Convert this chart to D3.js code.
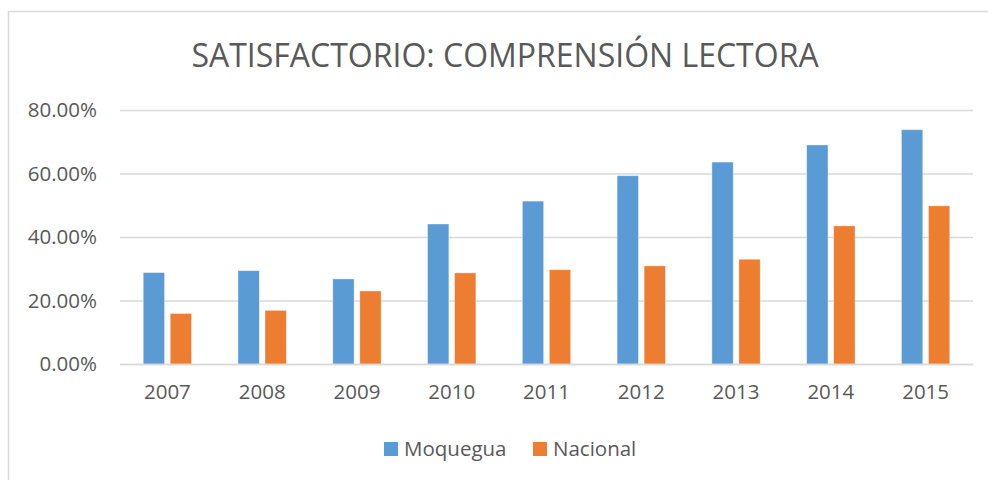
<!DOCTYPE html>
<html>
<head>
<meta charset="utf-8">
<script src="https://cdn.jsdelivr.net/npm/d3@7"></script>
<style>
  body { margin: 0; background: #fff; }
  text { font-family: "Open Sans", sans-serif; fill: #595959; }
</style>
</head>
<body>
<div id="chart"></div>
<script>
// data
var years = ["2007", "2008", "2009", "2010", "2011", "2012", "2013", "2014", "2015"];
var seriesNames = ["Moquegua", "Nacional"];
var moquegua = [0.288, 0.294, 0.268, 0.441, 0.513, 0.593, 0.636, 0.690, 0.738];
var nacional = [0.159, 0.169, 0.230, 0.287, 0.297, 0.309, 0.330, 0.435, 0.498];
var yTicks = [0, 0.2, 0.4, 0.6, 0.8];
var colors = ["#5B9BD5", "#ED7D31"];

var W = 988, H = 480;

var svg = d3.select("#chart").append("svg")
    .attr("width", W)
    .attr("height", H);

// chart border (only top and left visible in the crop)
svg.append("rect")
    .attr("x", 8.5).attr("y", 11.5)
    .attr("width", 1000).attr("height", 500)
    .attr("fill", "none")
    .attr("stroke", "#d9d9d9")
    .attr("stroke-width", 1.5);

svg.append("text")
    .attr("x", 505).attr("y", 67)
    .attr("text-anchor", "middle")
    .style("font-size", "32px")
    .text("SATISFACTORIO: COMPRENSIÓN LECTORA");

var xScale = d3.scaleBand()
    .domain(years)
    .range([120, 973])
    .paddingInner(0.49)
    .paddingOuter(0.245);

var xSub = d3.scaleBand()
    .domain(seriesNames)
    .range([0, xScale.bandwidth()])
    .paddingInner(0.21);

var yScale = d3.scaleLinear()
    .domain([0, 0.8])
    .range([364, 110]);

// gridlines
var yAxis = svg.append("g")
    .attr("transform", "translate(120,0)")
    .call(d3.axisLeft(yScale)
        .tickValues(yTicks)
        .tickSize(-(973 - 120))
        .tickPadding(23)
        .tickFormat(function(d) { return (d * 100).toFixed(2) + "%"; }));
yAxis.select(".domain").remove();
yAxis.selectAll(".tick line").attr("stroke", "#d9d9d9").attr("stroke-width", 1.5);
yAxis.selectAll(".tick text")
    .style("font-size", "20.5px")
    .attr("fill", "#595959");

var rows = years.map(function(y, i) {
    return { year: y, values: [moquegua[i], nacional[i]] };
});

var groups = svg.selectAll("g.year")
    .data(rows)
    .enter().append("g")
    .attr("class", "year")
    .attr("transform", function(d) { return "translate(" + xScale(d.year) + ",0)"; });

groups.selectAll("rect")
    .data(function(d) { return d.values.map(function(v, j) { return { name: seriesNames[j], v: v, c: colors[j] }; }); })
    .enter().append("rect")
    .attr("x", function(d) { return xSub(d.name); })
    .attr("y", function(d) { return yScale(d.v); })
    .attr("width", xSub.bandwidth())
    .attr("height", function(d) { return yScale(0) - yScale(d.v); })
    .attr("fill", function(d) { return d.c; })
    .attr("stroke", "#ffffff")
    .attr("stroke-opacity", 0.5)
    .attr("stroke-width", 0.75);

// x axis line + labels
var xAxis = svg.append("g")
    .attr("transform", "translate(0,364)")
    .call(d3.axisBottom(xScale).tickSize(0).tickPadding(20));
xAxis.select(".domain").attr("stroke", "#d9d9d9").attr("stroke-width", 1.5);
xAxis.selectAll(".tick text")
    .style("font-size", "20.5px")
    .attr("fill", "#595959");

// legend
var legendX = [384, 533];
var legend = svg.selectAll("g.legend")
    .data(seriesNames)
    .enter().append("g")
    .attr("class", "legend")
    .attr("transform", function(d, i) { return "translate(" + legendX[i] + ",442)"; });
legend.append("rect")
    .attr("width", 14).attr("height", 14)
    .attr("fill", function(d, i) { return colors[i]; });
legend.append("text")
    .attr("x", 20).attr("y", 14)
    .style("font-size", "20.5px")
    .text(function(d) { return d; });
</script>
</body>
</html>
